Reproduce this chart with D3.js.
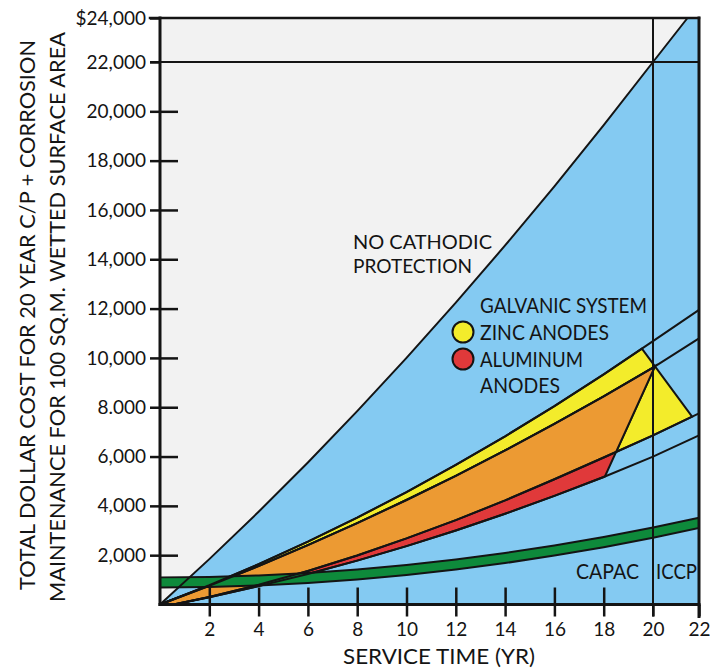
<!DOCTYPE html>
<html><head><meta charset="utf-8">
<script src="https://cdn.jsdelivr.net/npm/d3@7"></script>
<style>
body{margin:0;background:#fff}
svg{display:block}
text{font-family:Lato,"Open Sans",sans-serif;fill:#141414}
</style>
</head><body>
<svg id="c" width="710" height="668"></svg>
<script>
// ---------- data (years, dollars) ----------
const xTickValues = [2,4,6,8,10,12,14,16,18,20,22];
const xTickLabels = ["2","4","6","8","10","12","14","16","18","20","22"];
const yTickValues = [2000,4000,6000,8000,10000,12000,14000,16000,18000,20000,22000,24000];
const yTickLabels = ["2,000","4,000","6,000","8.000","10,000","12,000","14,000","16,000","18,000","20,000","22,000","$24,000"];

const noCathodic = [[0,0],[2,1840],[4,3760],[6,5760],[8,7840],[10,10000],[12,12240],[14,14560],[16,16960],[18,19440],[20,22000],[21.5,24000]];
const zincTop = [[0,0],[2,787],[4,1637],[6,2549],[8,3523],[10,4560],[12,5659],[14,6821],[16,8045],[18,9331],[20,10680],[22,11950]];
const aluminumTop = [[0,0],[2,757],[4,1559],[6,2406],[8,3299],[10,4237],[12,5220],[14,6249],[16,7324],[18,8443],[20,9608],[22,10795]];
const zincBottom = [[0.55,0],[2,310],[4,800],[6,1360],[8,1990],[10,2680],[12,3420],[14,4220],[16,5080],[18,5960],[20,6860],[22,7752]];
const aluminumBottom = [[0.55,0],[2,296],[4,745],[6,1239],[8,1780],[10,2366],[12,3000],[14,3680],[16,4405],[18,5170],[20,5995],[22,6859]];
const capacTop = [[0,1100],[2,1120],[4,1181],[6,1282],[8,1423],[10,1605],[12,1827],[14,2090],[16,2393],[18,2736],[20,3120],[22,3520]];
const capacBottom = [[0,690],[2,710],[4,771],[6,872],[8,1013],[10,1195],[12,1417],[14,1680],[16,1983],[18,2326],[20,2710],[22,3100]];
// end years of the galvanic regions: [year on upper curve, year on lower curve]
const zincCut = [19.55, 21.7];
const aluminumCut = [20.09, 18.05];
const gridCost = 22000, gridYear = 20;

// ---------- scales ----------
const x = d3.scaleLinear().domain([0,20,22]).range([160,653,699]);
const y = d3.scaleLinear().domain([0,22000,24000]).range([604.5,62,18]);
const X0 = x(0), X1 = x(22), Y0 = y(0), Y1 = y(24000);

const C = {gray:"#f2f2f2", blue:"#84caf2", yellow:"#f3ec2b", orange:"#ec9a33", red:"#e0393a", green:"#0e8a3b", ink:"#141414"};

const svg = d3.select("#c");
const line = d3.line().x(d=>x(d[0])).y(d=>y(d[1]));
const interp = s => d3.scaleLinear().domain(s.map(d=>d[0])).range(s.map(d=>d[1]));
const fZT = interp(zincTop), fAT = interp(aluminumTop), fZB = interp(zincBottom), fAB = interp(aluminumBottom);
const before = (s,t) => s.filter(d=>d[0] < t);

// background
svg.append("rect").attr("x",X0).attr("y",Y1).attr("width",X1-X0).attr("height",Y0-Y1).attr("fill",C.gray);
// blue area below "no cathodic protection"
svg.append("path").attr("d", line(noCathodic.concat([[22,24000],[22,0]])) + "Z").attr("fill",C.blue);

// zinc region
const zincPoly = before(zincTop,zincCut[0]).concat([[zincCut[0],fZT(zincCut[0])],[zincCut[1],fZB(zincCut[1])]])
  .concat(before(zincBottom,zincCut[1]).reverse());
// aluminum region
const aA = [aluminumCut[0], fAT(aluminumCut[0])], aB = [aluminumCut[1], fAB(aluminumCut[1])];
const alPoly = before(aluminumTop,aluminumCut[0]).concat([aA,aB]).concat(before(aluminumBottom,aluminumCut[1]).reverse());
// overlap: find where the aluminum cut meets the zinc bottom curve
const PA = [x(aA[0]),y(aA[1])], PB = [x(aB[0]),y(aB[1])];
const side = t => { const px=x(t), py=y(fZB(t)); return (PB[0]-PA[0])*(py-PA[1])-(PB[1]-PA[1])*(px-PA[0]); };
let lo=15, hi=21; const sLo = side(lo);
for(let i=0;i<60;i++){ const m=(lo+hi)/2; if(Math.sign(side(m))===Math.sign(sLo)) lo=m; else hi=m; }
const tI = (lo+hi)/2;
const ovPoly = before(aluminumTop,aluminumCut[0]).concat([aA,[tI,fZB(tI)]]).concat(before(zincBottom,tI).reverse());

const reg = (pts,fill)=>svg.append("path").attr("d",line(pts)+"Z").attr("fill",fill)
  .attr("stroke",C.ink).attr("stroke-width",2).attr("stroke-linejoin","miter");
reg(zincPoly,C.yellow); reg(alPoly,C.red); reg(ovPoly,C.orange);

// CAPAC band
svg.append("path").attr("d", line(capacTop.concat(capacBottom.slice().reverse()))+"Z")
  .attr("fill",C.green).attr("stroke",C.ink).attr("stroke-width",2);

// curves
[noCathodic, zincTop, aluminumTop, zincBottom, aluminumBottom].forEach(s=>{
  svg.append("path").attr("d",line(s)).attr("fill","none").attr("stroke",C.ink).attr("stroke-width",2);
});

// grid lines at 22,000 and 20 years
svg.append("line").attr("x1",X0-10).attr("x2",X1).attr("y1",y(gridCost)).attr("y2",y(gridCost)).attr("stroke",C.ink).attr("stroke-width",2);
svg.append("line").attr("x1",x(gridYear)).attr("x2",x(gridYear)).attr("y1",Y1).attr("y2",Y0+12).attr("stroke",C.ink).attr("stroke-width",2);

// axes
const styleAxis = g => { g.select(".domain").remove(); g.attr("font-family",null).attr("font-size",null);
  g.selectAll(".tick line").attr("stroke",C.ink).attr("stroke-width",2.5);
  g.selectAll(".tick text").attr("fill",C.ink).style("font-size","19px"); };
svg.append("g").attr("transform",`translate(${X0},0)`)
  .call(d3.axisLeft(y).tickValues(yTickValues).tickSize(10).tickPadding(4).tickFormat((d,i)=>yTickLabels[i])).call(styleAxis);
svg.append("g").attr("transform",`translate(${X0},0)`)
  .call(d3.axisRight(y).tickValues(yTickValues.filter(v=>v<gridCost)).tickSize(18).tickFormat("")).call(styleAxis);
svg.append("g").attr("transform",`translate(0,${Y0})`)
  .call(d3.axisBottom(x).tickValues(xTickValues).tickSize(12).tickPadding(6).tickFormat((d,i)=>xTickLabels[i])).call(styleAxis);
svg.append("g").attr("transform",`translate(0,${Y0})`)
  .call(d3.axisTop(x).tickValues(xTickValues.filter(v=>v<gridYear)).tickSize(17).tickFormat("")).call(styleAxis);

// frame
const fr = (x1,y1,x2,y2,w)=>svg.append("line").attr("x1",x1).attr("y1",y1).attr("x2",x2).attr("y2",y2).attr("stroke",C.ink).attr("stroke-width",w).attr("stroke-linecap","square");
fr(X0,Y1,X0,Y0,3); fr(X0,Y0,X1,Y0,3); fr(X1,Y1,X1,Y0+12,3); fr(X0-10,Y1,X1,Y1,2.5);

// texts
const txt = (s,xx,yy,len,size,anchor)=>{ const t=svg.append("text").attr("x",xx).attr("y",yy).text(s)
  .style("font-size",(size||21)+"px").attr("text-anchor",anchor||"start");
  if(len){ t.attr("textLength",len).attr("lengthAdjust","spacingAndGlyphs"); } return t; };
txt("NO CATHODIC",353,249,139,19);
txt("PROTECTION",353,273,119,19);
txt("GALVANIC SYSTEM",480,313,167);
txt("ZINC ANODES",480,340,129);
txt("ALUMINUM",480,367,103);
txt("ANODES",480,393,80);
txt("CAPAC",576,579,63);
txt("ICCP",656,579,41);
txt("SERVICE TIME (YR)",343,664,192,22);
svg.append("circle").attr("cx",463).attr("cy",332).attr("r",10.5).attr("fill",C.yellow).attr("stroke",C.ink).attr("stroke-width",2);
svg.append("circle").attr("cx",463).attr("cy",359).attr("r",10.5).attr("fill",C.red).attr("stroke",C.ink).attr("stroke-width",2);

svg.append("text").attr("transform","translate(35,315) rotate(-90)").attr("text-anchor","middle")
  .style("font-size","22px").attr("textLength",550).attr("lengthAdjust","spacingAndGlyphs")
  .text("TOTAL DOLLAR COST FOR 20 YEAR C/P + CORROSION");
svg.append("text").attr("transform","translate(65,317) rotate(-90)").attr("text-anchor","middle")
  .style("font-size","22px").attr("textLength",570).attr("lengthAdjust","spacingAndGlyphs")
  .text("MAINTENANCE FOR 100 SQ.M. WETTED SURFACE AREA");
</script>
</body></html>
